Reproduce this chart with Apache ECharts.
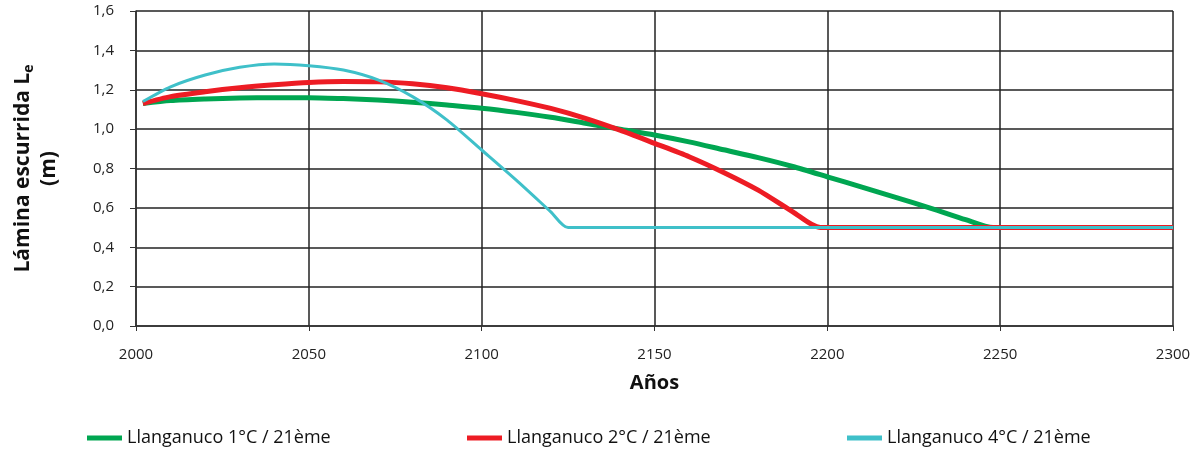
<!DOCTYPE html>
<html>
<head>
<meta charset="utf-8">
<script src="https://cdn.jsdelivr.net/npm/echarts@6/dist/echarts.min.js"></script>
<style>
  html, body { margin: 0; padding: 0; background: #fff; }
  #chart { width: 1195px; height: 454px; }
</style>
</head>
<body>
<div id="chart"></div>
<script>
// values
const seriesNames = ['Llanganuco 1°C / 21ème', 'Llanganuco 2°C / 21ème', 'Llanganuco 4°C / 21ème'];

const years1 = [2002, 2010, 2020, 2030, 2040, 2050, 2060, 2070, 2080, 2090, 2100, 2110, 2120, 2130, 2140, 2150, 2160, 2170, 2180, 2190, 2200, 2210, 2220, 2230, 2240, 2248, 2300];
const vals1  = [1.13, 1.145, 1.153, 1.158, 1.16, 1.16, 1.155, 1.148, 1.137, 1.122, 1.106, 1.085, 1.06, 1.03, 1.0, 0.97, 0.935, 0.895, 0.855, 0.81, 0.758, 0.705, 0.652, 0.598, 0.54, 0.5, 0.5];

const years2 = [2002, 2010, 2020, 2030, 2040, 2050, 2060, 2070, 2080, 2090, 2100, 2110, 2120, 2130, 2140, 2150, 2160, 2170, 2180, 2190, 2198, 2300];
const vals2  = [1.13, 1.165, 1.19, 1.21, 1.225, 1.237, 1.242, 1.24, 1.23, 1.21, 1.18, 1.145, 1.105, 1.055, 0.995, 0.928, 0.86, 0.78, 0.69, 0.58, 0.5, 0.5];

const years4 = [2002, 2010, 2020, 2030, 2040, 2050, 2060, 2070, 2080, 2090, 2100, 2110, 2120, 2125, 2300];
const vals4  = [1.14, 1.215, 1.275, 1.314, 1.331, 1.322, 1.3, 1.25, 1.165, 1.046, 0.894, 0.741, 0.58, 0.5, 0.5];

const colors = ['#00a651', '#ed1c24', '#3fc0c9'];
const widths = [5, 5, 3];

const fmt = v => v.toFixed(1).replace('.', ',');
const pairs = (xs, ys) => xs.map((x, i) => [x, ys[i]]);

const chart = echarts.init(document.getElementById('chart'));

const legendBase = {
  bottom: 2,
  icon: 'rect',
  itemWidth: 35,
  itemHeight: 5,
  itemGap: 5,
  textStyle: { fontFamily: 'Open Sans', fontSize: 18, color: '#111' }
};

chart.setOption({
  animation: false,
  textStyle: { fontFamily: 'Open Sans' },
  grid: { left: 136, right: 22, top: 11, bottom: 128, show: false },
  legend: [
    Object.assign({}, legendBase, { left: 82, data: [seriesNames[0]] }),
    Object.assign({}, legendBase, { left: 462, data: [seriesNames[1]] }),
    Object.assign({}, legendBase, { left: 842, data: [seriesNames[2]] })
  ],
  xAxis: {
    type: 'value',
    min: 2000,
    max: 2300,
    interval: 50,
    name: 'Años',
    nameLocation: 'middle',
    nameGap: 47,
    nameTextStyle: { fontSize: 20, fontWeight: 'bold', color: '#111' },
    axisLine: { show: true, lineStyle: { color: '#333', width: 1.5 } },
    axisTick: { show: true, length: 5, lineStyle: { color: '#333' } },
    axisLabel: { margin: 21, fontSize: 15, color: '#222', formatter: v => String(v) },
    splitLine: { show: true, lineStyle: { color: '#222', width: 1.5 } }
  },
  yAxis: {
    type: 'value',
    min: 0,
    max: 1.6,
    interval: 0.2,
    name: '{b|Lámina escurrida L}{s|e}\n{b|(m)}',
    nameLocation: 'middle',
    nameGap: 74,
    nameTextStyle: {
      rich: {
        b: { fontSize: 21, fontWeight: 'bold', color: '#111', lineHeight: 26, fontFamily: 'Open Sans' },
        s: { fontSize: 14, fontWeight: 'bold', color: '#111', verticalAlign: 'bottom', padding: [8, 0, 0, 0], fontFamily: 'Open Sans' }
      }
    },
    axisLine: { show: true, lineStyle: { color: '#333', width: 1.5 } },
    axisTick: { show: true, length: 6, lineStyle: { color: '#333' } },
    axisLabel: { margin: 22, fontSize: 15, color: '#222', formatter: fmt },
    splitLine: { show: true, lineStyle: { color: '#222', width: 1.5 } }
  },
  series: [
    { name: seriesNames[0], data: pairs(years1, vals1) },
    { name: seriesNames[1], data: pairs(years2, vals2) },
    { name: seriesNames[2], data: pairs(years4, vals4) }
  ].map((s, i) => Object.assign(s, {
    type: 'line',
    showSymbol: false,
    smooth: 0.25,
    z: 2 + i,
    itemStyle: { color: colors[i] },
    lineStyle: { color: colors[i], width: widths[i] }
  }))
});
</script>
</body>
</html>
